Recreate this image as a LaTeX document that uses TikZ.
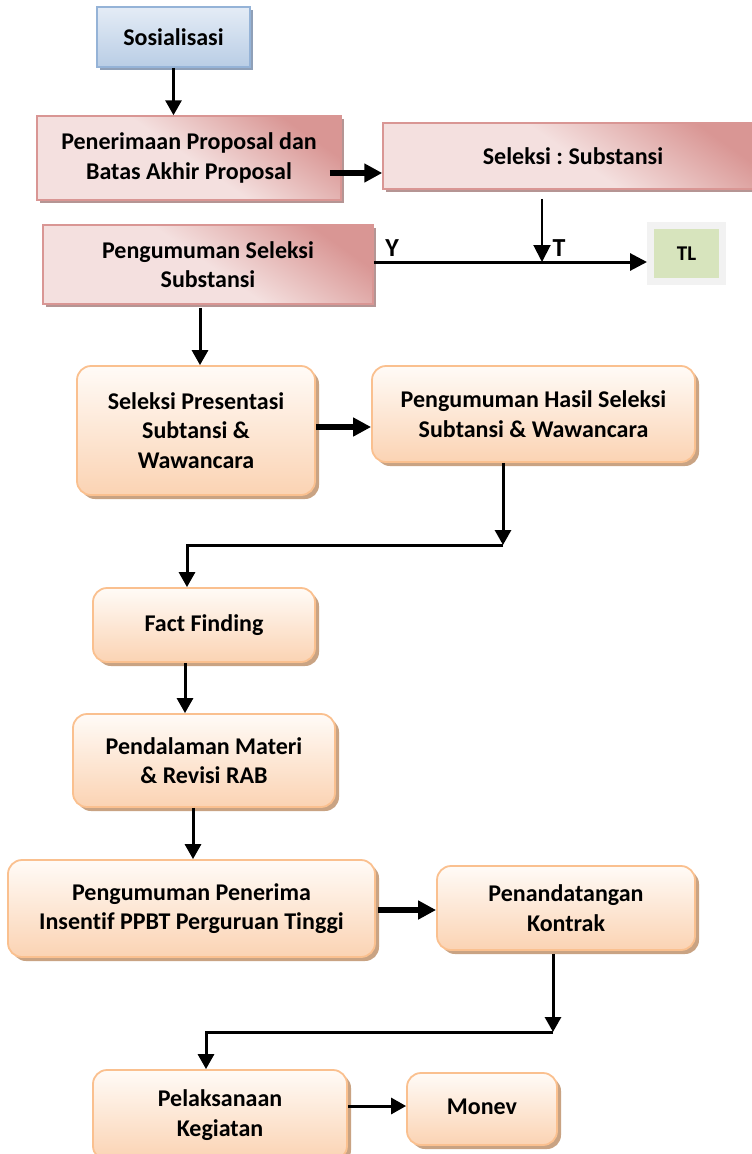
\documentclass[tikz,border=0pt]{standalone}
\usepackage{fontspec}
\setmainfont{Carlito}[Ligatures=CommonOff]
\usepackage{tikz}
\usetikzlibrary{arrows.meta,shadows,calc}
\frenchspacing

\definecolor{pinkL}{HTML}{F4E0DF}
\definecolor{pinkD}{HTML}{D99694}
\definecolor{pinkS}{HTML}{B59594}
\definecolor{oraB}{HTML}{FAC08F}
\definecolor{oraL}{HTML}{FFFBF7}
\definecolor{oraD}{HTML}{FBD3B3}
\definecolor{oraS}{HTML}{C9A383}
\definecolor{bluB}{HTML}{95B3D7}
\definecolor{bluL}{HTML}{E4ECF6}
\definecolor{bluD}{HTML}{B9CDE5}
\definecolor{bluS}{HTML}{8FA0B8}
\definecolor{tlG}{HTML}{D7E4BD}
\definecolor{tlB}{HTML}{F2F2F2}

\begin{document}
\begin{tikzpicture}[x=1pt,y=-1pt,
	txt/.style={font=\fontsize{24}{29.5}\selectfont\bfseries,align=center,text=black},
	pinkbox/.style={txt,rectangle,draw=pinkD,line width=1.5pt,top color=pinkD,bottom color=pinkL,middle color=pinkL,shading angle=-35,
		drop shadow={shadow xshift=3pt,shadow yshift=-3pt,fill=pinkS,opacity=1}},
	orabox/.style={txt,rectangle,rounded corners=14pt,draw=oraB,line width=1.8pt,top color=oraL,bottom color=oraD,
		drop shadow={shadow xshift=4pt,shadow yshift=-4pt,fill=oraS,opacity=1}},
	blubox/.style={txt,rectangle,draw=bluB,line width=1.8pt,top color=bluL,bottom color=bluD,
		drop shadow={shadow xshift=3pt,shadow yshift=-3pt,fill=bluS,opacity=1}},
	arr/.style={line width=3pt,-{Triangle[length=15pt,width=16pt]}},
	arrthick/.style={line width=6pt,-{Triangle[length=18pt,width=18pt]}},
	arrthin/.style={line width=3pt,-{Triangle[length=17pt,width=17pt]}}
	]
	\useasboundingbox (0,0) rectangle (752,1154);
	\clip (0,0) rectangle (752,1154);

	\node[blubox,minimum width=153pt,minimum height=60pt] (sos) at (173.5,37) {Sosialisasi};
	\node[pinkbox,minimum width=304pt,minimum height=84pt] (terima) at (189,158) {Penerimaan Proposal dan\\Batas Akhir Proposal};
	\node[pinkbox,minimum width=380pt,minimum height=66pt] (seleksi) at (573,156) {Seleksi : Substansi};
	\node[pinkbox,minimum width=330pt,minimum height=79pt] (umumsel) at (208,264.5) {Pengumuman Seleksi\\Substansi};
	\node[txt,draw=tlB,fill=tlG,line width=7pt,minimum width=72pt,minimum height=56pt,
		drop shadow={shadow xshift=3pt,shadow yshift=-3pt,fill=pinkS,opacity=1}] (tl) at (686.5,253.5) {\fontsize{21}{24}\selectfont TL};

	\node[orabox,minimum width=238pt,minimum height=129pt] (presen) at (196,430.5) {Seleksi Presentasi\\Subtansi \&\\Wawancara};
	\node[orabox,minimum width=323pt,minimum height=96pt] (hasil) at (533.5,414) {Pengumuman Hasil Seleksi\\Subtansi \& Wawancara};
	\node[orabox,minimum width=222pt,minimum height=74pt] (fact) at (204,625) {Fact Finding};
	\node[orabox,minimum width=262pt,minimum height=93pt] (dalam) at (204,760.5) {Pendalaman Materi\\\& Revisi RAB};
	\node[orabox,minimum width=367pt,minimum height=97pt] (insentif) at (191.5,908.5) {Pengumuman Penerima\\Insentif PPBT Perguruan Tinggi};
	\node[orabox,minimum width=258pt,minimum height=84pt] (kontrak) at (566,908) {Penandatangan\\Kontrak};
	\node[orabox,minimum width=254pt,minimum height=90pt] (laksana) at (220,1115) {Pelaksanaan\\Kegiatan};
	\node[orabox,minimum width=150pt,minimum height=72pt] (monev) at (482,1109) {\raisebox{5pt}{Monev}};

	\coordinate (tt) at (542,262);
	\coordinate (c1) at (503,545);
	\coordinate (c2) at (553,1032);

	\draw[arr] (sos.south) -- (sos.south |- terima.north);
	\draw[arrthick] ([xshift=-12pt,yshift=-15pt]terima.east) -- ([yshift=-17pt]seleksi.west);
	\draw[arrthin,line width=2pt,shorten <=9pt] (tt |- seleksi.south) -- (tt);
	\draw[arrthin] (umumsel.east |- tt) -- (tl.west |- tt);
	\node[txt,font=\fontsize{26}{30}\selectfont\bfseries] (ya) at (392,248) {Y};
	\node[txt,font=\fontsize{26}{30}\selectfont\bfseries] (tidak) at (559,248) {T};

	\draw[arr] ([xshift=-8pt,yshift=-3pt]umumsel.south) -- ([xshift=4pt]presen.north);
	\draw[arrthick] ([yshift=3.5pt]presen.east) -- ([yshift=-13pt]hasil.west);
	\draw[arr] (c1 |- hasil.south) -- (c1);
	\draw[arr] (c1) -| ([xshift=-17pt]fact.north);
	\draw[arr] ([xshift=-19pt]fact.south) -- ([xshift=-19pt]dalam.north);
	\draw[arr] ([xshift=-11pt]dalam.south) -- ([xshift=1.5pt]insentif.north);
	\draw[arrthick] ([xshift=2pt,yshift=-1.5pt]insentif.east) -- ([yshift=-2pt]kontrak.west);
	\draw[arr] ([yshift=-3pt]c2 |- kontrak.south) -- (c2);
	\draw[arr] (c2) -| ([xshift=-14pt]laksana.north);
	\draw[arr] ([yshift=9pt]laksana.east) -- ([yshift=3pt]monev.west);
\end{tikzpicture}
\end{document}
